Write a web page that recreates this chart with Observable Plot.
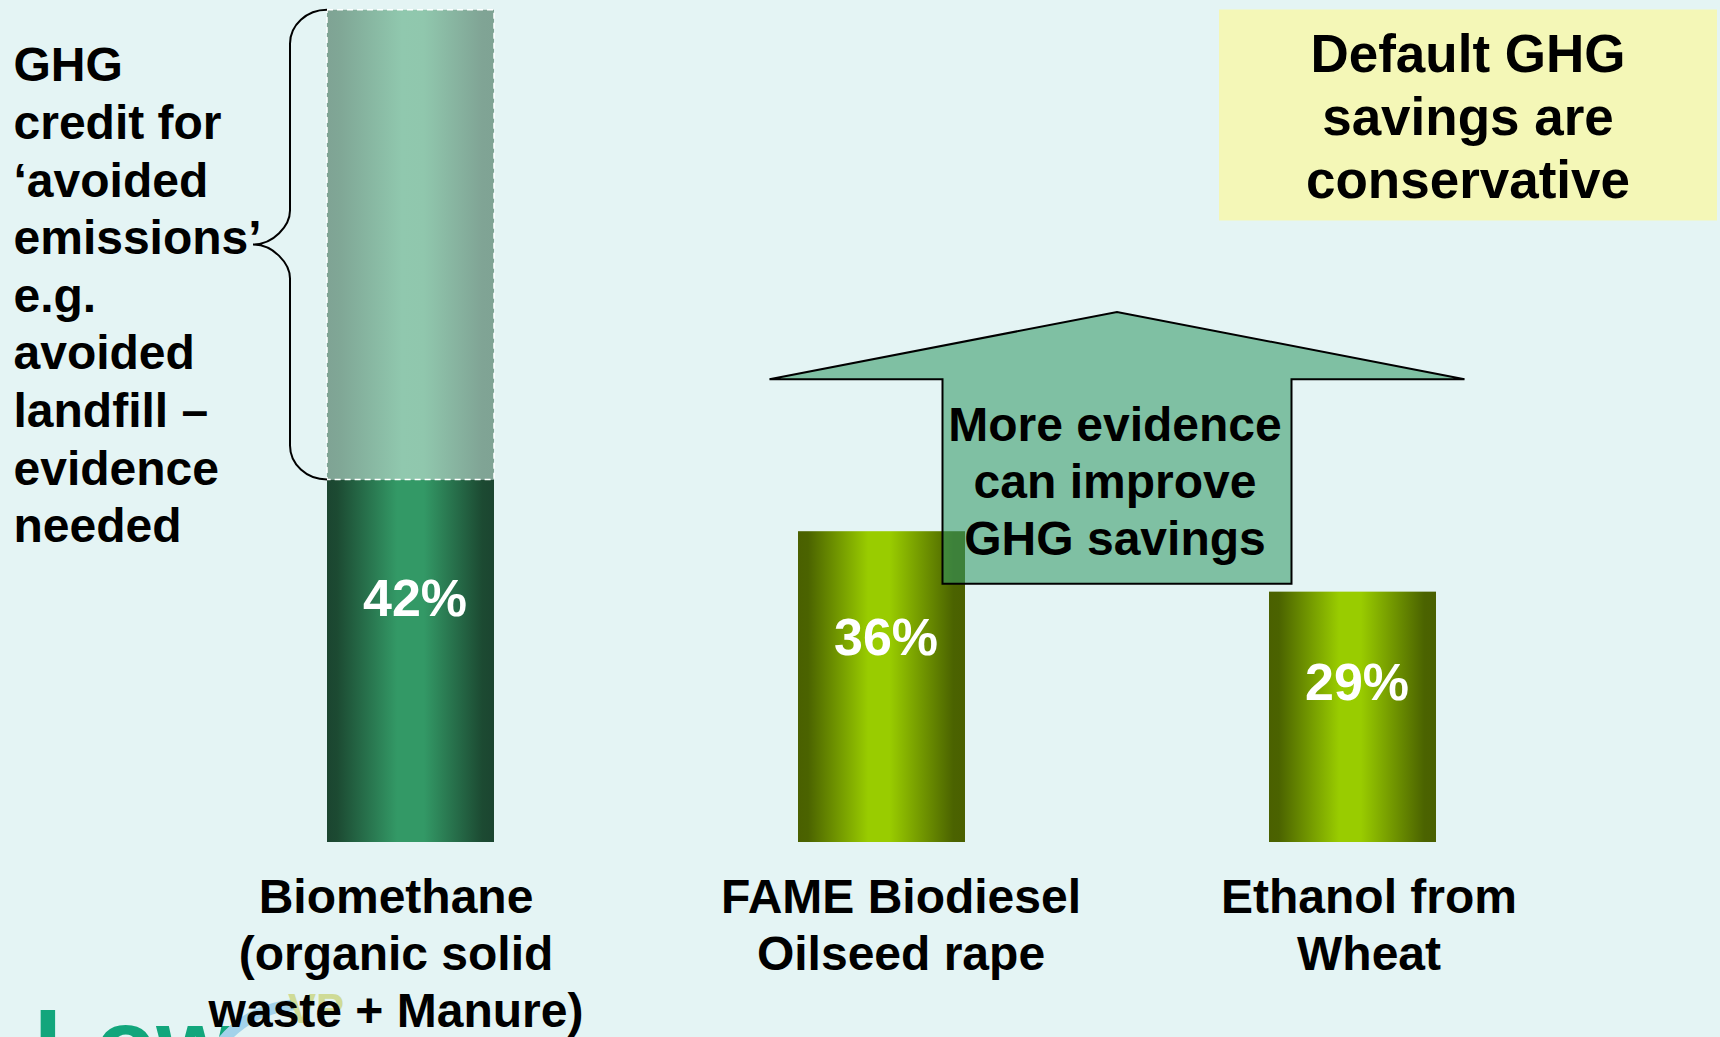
<!DOCTYPE html>
<html><head><meta charset="utf-8">
<script src="https://cdn.jsdelivr.net/npm/d3@7"></script>
<script src="https://cdn.jsdelivr.net/npm/@observablehq/plot@0.6"></script>
<style>html,body{margin:0;padding:0;background:#e4f4f4;overflow:hidden}</style>
</head><body><div id="chart"></div>
<script>
// ---- data ----
const categories = ["Biomethane\n(organic solid\nwaste + Manure)", "FAME Biodiesel\nOilseed rape", "Ethanol from\nWheat"];
const defaultSavings = [42, 36, 29];            // % default GHG savings
const avoidedEmissionsCredit = [54.4, 0, 0];    // estimated extra credit (light, dashed part)
const leftNote = "GHG\ncredit for\n‘avoided\nemissions’\ne.g.\navoided\nlandfill –\nevidence\nneeded";
const arrowNote = ["More evidence", "can improve", "GHG savings"];
const boxNote = ["Default GHG", "savings are", "conservative"];

const rows = categories.map((c, i) => ({category: c, value: defaultSavings[i], credit: avoidedEmissionsCredit[i]}));
const bioRows = rows.filter((d, i) => i === 0);
const cropRows = rows.filter((d, i) => i > 0);

const FONT = "'Liberation Sans', Arial, Helvetica, sans-serif";

function gradients() {
  const defs = d3.create("svg:defs");
  const make = (id, stops) => {
    const lg = defs.append("linearGradient").attr("id", id)
      .attr("x1", 0).attr("x2", 1).attr("y1", 0).attr("y2", 0);
    stops.forEach(([o, c]) => lg.append("stop").attr("offset", o).attr("stop-color", c));
  };
  make("gDark", [[0, "#1b4530"], [0.06, "#1c4a32"], [0.42, "#339966"], [0.58, "#339966"], [0.93, "#1c4a32"], [1, "#1b4530"]]);
  make("gOlive", [[0, "#4a6000"], [0.06, "#4b6300"], [0.42, "#99cc00"], [0.55, "#99cc00"], [0.93, "#4b6300"], [1, "#4a6000"]]);
  make("gLight", [[0, "#7fa394"], [0.08, "#80a796"], [0.45, "#90c8ae"], [0.58, "#90c7ad"], [0.93, "#80a495"], [1, "#7fa394"]]);
  return defs.node();
}

function logo() {
  const g = d3.create("svg:g").attr("font-family", FONT).attr("font-weight", "bold").attr("text-anchor", "start");
  g.append("text").attr("x", 34).attr("y", 1079).attr("font-size", 100).attr("fill", "#12a67c").text("Low");
  g.append("path").attr("d", "M222,1042 Q248,1010 292,1005").attr("fill", "none")
    .attr("stroke", "#a3d2ea").attr("stroke-width", 11).attr("stroke-linecap", "round");
  g.append("text").attr("x", 288).attr("y", 1023).attr("font-size", 42).attr("fill", "#cfdb96").text("VP");
  return g.node();
}

function annotations(index, scales) {
  const {x, y} = scales;
  const bw = x.bandwidth();
  const g = d3.create("svg:g").attr("font-family", FONT);
  // curly brace on the left of the credit part
  const b = rows[0];
  const xr = x(b.category), xm = xr - 37, xp = xr - 74;
  const yt = y(b.value + b.credit), yb = y(b.value), ym = (yt + yb) / 2, r = 34;
  const k = 0.55;
  g.append("path")
    .attr("d", `M${xr},${yt} C${xr - 37 * k},${yt} ${xm},${yt + r * (1 - k)} ${xm},${yt + r}` +
      ` L${xm},${ym - r} C${xm},${ym - r * k} ${xp + 37 * k},${ym} ${xp},${ym}` +
      ` C${xp + 37 * k},${ym} ${xm},${ym + r * k} ${xm},${ym + r}` +
      ` L${xm},${yb - r} C${xm},${yb - r * (1 - k)} ${xr - 37 * k},${yb} ${xr},${yb}`)
    .attr("fill", "none").attr("stroke", "black").attr("stroke-width", 2);

  // block arrow between FAME and Ethanol bars
  const cF = x(rows[1].category) + bw / 2, cE = x(rows[2].category) + bw / 2, mid = (cF + cE) / 2;
  const sh = 174.5, wh = 347.5;
  const yBot = y(29.9), yWing = y(53.6), yApex = y(61.4);
  const pts = [[mid - sh, yBot], [mid - sh, yWing], [mid - wh, yWing], [mid, yApex], [mid + wh, yWing], [mid + sh, yWing], [mid + sh, yBot]];
  g.append("path").attr("d", "M" + pts.map(p => p.join(",")).join("L") + "Z")
    .attr("fill", "#339966").attr("fill-opacity", 0.57)
    .attr("stroke", "black").attr("stroke-width", 2).attr("stroke-linejoin", "miter");
  const at = g.append("text").attr("font-size", 48).attr("font-weight", "bold").attr("text-anchor", "middle").attr("fill", "black");
  arrowNote.forEach((t, i) => at.append("tspan").attr("x", mid - 2).attr("y", 441 + i * 57).text(t));

  // yellow call-out box
  g.append("rect").attr("x", 1219).attr("y", 9.5).attr("width", 498).attr("height", 211).attr("fill", "#f4f7b7");
  const bt = g.append("text").attr("font-size", 53).attr("font-weight", "bold").attr("text-anchor", "middle").attr("fill", "black");
  boxNote.forEach((t, i) => bt.append("tspan").attr("x", 1468).attr("y", 72 + i * 63).text(t));
  return g.node();
}

const catLabel = (subset, dx) => Plot.text(subset, {x: "category", y: 0, text: "category", fill: "black", lineAnchor: "top",
  dy: 30.5, dx, fontSize: 48, fontWeight: "bold", lineHeight: 1.1875});

const chart = Plot.plot({
  width: 1720,
  height: 1037,
  marginTop: 0, marginRight: 0, marginBottom: 0, marginLeft: 0,
  style: {background: "#e4f4f4", fontFamily: FONT, overflow: "visible"},
  x: {domain: categories, range: [90, 1672], paddingInner: 0.646, paddingOuter: 0.5, align: 0.5, axis: null},
  y: {domain: [0, 100], range: [842, 842 - 863.3], axis: null},
  marks: [
    gradients,
    logo,
    Plot.barY(bioRows, {x: "category", y: "value", fill: "url(#gDark)"}),
    Plot.barY(cropRows, {x: "category", y: "value", fill: "url(#gOlive)"}),
    Plot.barY(bioRows, {x: "category", y1: "value", y2: d => d.value + d.credit, fill: "url(#gLight)",
      stroke: "white", strokeWidth: 1.5, strokeDasharray: "6,4"}),
    Plot.text(rows, {x: "category", y: d => d.value * 0.746 - 3.2, text: d => d.value + "%", fill: "white",
      fontSize: 52, fontWeight: "bold", dx: 4}),
    catLabel(rows.slice(0, 1), -15),
    catLabel(rows.slice(1, 2), 19),
    catLabel(rows.slice(2, 3), 16),
    Plot.text([leftNote], {frameAnchor: "top-left", text: d => d, textAnchor: "start", lineAnchor: "top",
      dx: 13, dy: 40, fill: "black", fontSize: 48, fontWeight: "bold", lineHeight: 1.2}),
    annotations
  ]
});
document.getElementById("chart").appendChild(chart);
</script>
</body></html>
